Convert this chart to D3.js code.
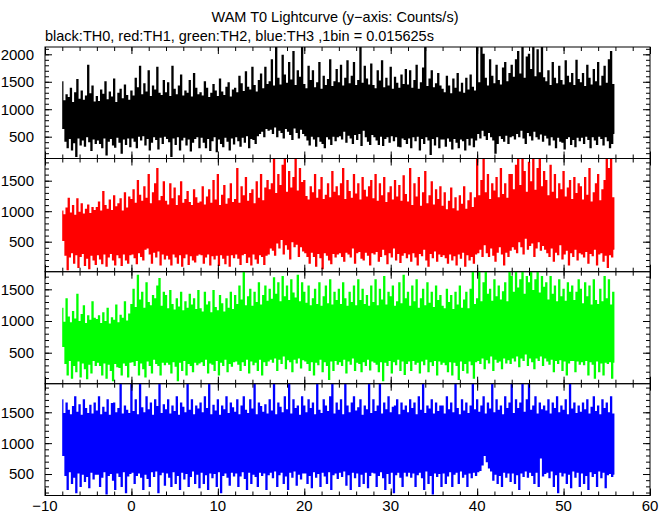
<!DOCTYPE html>
<html>
<head>
<meta charset="utf-8">
<script src="https://cdn.jsdelivr.net/npm/d3@7"></script>
<style>
  html, body { margin: 0; padding: 0; background: #ffffff; }
  svg { display: block; }
  text { font-family: "Liberation Sans", Arial, Helvetica, sans-serif; fill: #000; }
</style>
</head>
<body>
<svg id="chart" width="672" height="515"></svg>
<script>
// ---------------- data ----------------
const titleText = "WAM T0 Lightcurve (y\u2212axis: Counts/s)";
const subtitleText = "black:TH0, red:TH1, green:TH2, blue:TH3 ,1bin = 0.015625s";
const seriesNames = ["TH0", "TH1", "TH2", "TH3"];
const seriesColors = ["#000000", "#ff0000", "#00ff00", "#0000ff"];
const startTime = -8;      // s
const sampleStep = 0.25;   // s, each sample = envelope (max, then min) of 16 bins
const xTickLabels = [-10, 0, 10, 20, 30, 40, 50, 60];
const yTickLabels = [[500, 1000, 1500, 2000], [500, 1000, 1500], [500, 1000, 1500], [500, 1000, 1500]];
const yDomains = [[103, 2133], [8, 1864], [11, 1778], [152, 1963]];

// TH0 (black): upper / lower envelope per 0.25 s
const th0Hi = [
1500,1150,1260,1210,1380,1120,1300,1540,1180,1330,1160,1240,1800,1280,1420,1130,
1230,1140,1350,1270,1500,1170,1310,1220,1550,1120,1290,1360,1190,1440,1250,1160,
1330,1240,1560,1390,1780,1260,1460,1310,1700,1230,1420,1350,1760,1290,1250,1520,
1300,1480,1230,1780,1360,1260,1420,1620,1240,1330,1290,1520,1220,1650,1380,1260,
1300,1240,1500,1380,1210,1290,1450,1330,1230,1550,1310,1250,1400,1480,1220,1350,
1380,1300,1600,1460,1320,1680,1400,1350,1760,1430,1310,1520,1640,1370,1760,1450,
1500,1900,1420,2120,1560,1440,1980,1620,1470,1850,1530,2050,1430,1700,1580,2120,
1450,1370,1780,1520,1700,1390,1480,1850,1360,1600,1430,1540,1900,1410,1500,1720,
1480,1800,1420,1560,1880,1460,1600,1850,1430,1520,2120,1470,1780,1550,1440,1820,
1430,1370,1700,1510,1880,1390,1560,1420,1760,1360,1580,1470,1380,1620,1450,1720,
1440,1700,1380,1520,1800,1360,1480,1750,2120,1410,1550,1700,1390,1460,1650,1420,
1360,1300,1600,1420,1280,1550,1380,1650,1310,1470,1290,1560,1350,1620,1400,1330,
2120,1480,2120,2000,1560,1420,1900,1600,1460,1800,1520,1440,1750,1850,1500,1650,
1800,1580,1900,2050,1640,2120,1560,1950,2000,1720,2120,1590,2080,1660,2120,1570,
1500,1700,1430,1850,1560,1460,1780,1520,1440,1880,1600,1480,1650,1430,1890,1540,
1480,1650,1410,1800,1560,1440,1720,1500,1850,1420,1600,1780,1470,1900,2050,1450];
const th0Lo = [
650,420,300,470,260,390,140,480,350,440,330,500,410,250,460,380,
440,380,300,480,170,420,470,350,310,490,400,200,460,360,480,320,
480,420,300,510,440,520,350,470,260,400,500,450,280,490,380,510,
470,410,140,480,360,500,260,440,490,350,460,240,400,470,500,300,
490,400,300,470,250,430,500,230,460,380,320,490,420,260,480,370,
500,430,330,490,400,520,300,470,450,380,520,560,600,500,650,620,
640,560,680,500,620,580,480,650,600,540,450,660,580,480,640,560,
520,440,350,510,460,330,500,420,380,300,500,460,360,510,430,500,
520,460,600,400,530,480,380,540,450,560,340,620,500,420,360,540,
500,440,360,510,340,470,500,400,520,430,500,330,320,480,450,380,
480,300,500,430,510,260,470,380,500,440,180,470,350,500,300,460,
460,330,480,420,280,470,400,300,460,430,260,470,350,480,320,440,
560,480,620,520,450,580,500,440,200,380,520,470,420,530,380,500,
520,460,560,500,620,480,380,580,520,440,600,500,460,550,420,530,
480,350,500,440,300,490,420,400,280,470,500,360,450,320,490,430,
490,380,510,450,300,500,440,360,510,470,350,500,430,300,380,560];

// TH1 (red)
const th1Hi = [
1000,940,1050,1210,970,1090,930,1200,980,1120,950,1030,1100,960,1060,1010,
1060,1150,1000,1320,1090,1030,1180,1010,1250,1070,1120,1200,1000,1300,1050,1230,
1190,1350,1130,1500,1260,1160,1400,1210,1600,1120,1300,1450,1700,1170,1240,1480,
1160,1100,1450,1200,1380,1090,1250,1480,1130,1190,1320,1140,1090,1350,1220,1130,
1150,1400,1100,1230,1350,1130,1500,1180,1600,1090,1260,1420,1110,1200,1450,1140,
1190,1700,1130,1400,1250,1550,1160,1290,1350,1120,1480,1210,1600,1170,1380,1500,
1350,1450,1860,1290,1600,1420,1750,1860,1310,1650,1380,1550,1860,1330,1700,1470,
1500,1240,1180,1400,1300,1600,1210,1350,1550,1190,1260,1450,1220,1650,1310,1400,
1250,1450,1700,1190,1500,1320,1210,1600,1280,1450,1180,1550,1340,1230,1400,1500,
1200,1600,1160,1450,1250,1550,1140,1300,1400,1180,1500,1230,1420,1160,1580,1270,
1150,1700,1090,1450,1230,1550,1080,1300,1650,1120,1250,1480,1100,1350,1190,1400,
1080,1300,1020,1160,1380,1040,1220,1000,1250,1110,1400,1030,1170,1300,1060,1220,
1860,1250,1500,1860,1300,1600,1190,1450,1330,1550,1220,1700,1270,1450,1210,1600,
1600,1350,1750,1860,1420,1860,1650,1310,1800,1480,1860,1340,1700,1860,1400,1650,
1500,1250,1750,1310,1600,1200,1450,1350,1650,1230,1380,1500,1190,1550,1290,1450,
1400,1180,1550,1260,1700,1150,1300,1450,1600,1170,1350,1500,1860,1700,1860,1220];
const th1Lo = [
520,280,40,250,320,150,290,80,260,310,110,230,60,280,200,130,
290,220,140,300,100,250,310,200,120,290,240,110,300,200,150,290,
300,240,140,320,260,200,380,400,300,150,330,250,350,120,300,220,
280,220,120,300,250,150,290,100,240,300,130,270,200,170,280,300,
290,150,250,300,120,270,220,280,110,290,230,140,280,100,290,240,
300,230,130,290,310,160,250,120,300,220,150,290,260,130,280,300,
400,360,280,480,400,540,300,450,380,220,500,420,460,260,420,350,
320,260,150,330,260,100,310,240,60,320,280,200,140,310,250,300,
320,260,180,330,300,250,400,150,320,340,230,200,330,280,120,320,
300,340,180,260,380,290,140,320,250,400,200,310,160,280,320,240,
300,180,320,250,120,310,270,380,200,100,310,240,350,180,300,260,
290,240,150,300,200,270,120,300,230,330,100,290,200,260,150,300,
320,380,260,450,320,260,400,280,180,330,420,300,120,330,260,360,
420,380,320,500,420,300,560,380,440,480,260,400,500,360,440,380,
320,260,400,180,330,290,450,220,300,360,120,320,260,380,200,320,
300,250,340,150,310,270,380,120,300,320,180,280,80,290,250,380];

// TH2 (green)
const th2Hi = [
1200,980,1350,1060,970,1150,1030,1420,990,1100,1240,960,1080,1010,1300,1040,
1020,1080,960,1130,990,1200,950,1050,1010,1250,970,1090,1040,1300,1000,1110,
1260,1500,1210,1720,1330,1450,1200,1600,1290,1240,1400,1350,1550,1670,1230,1450,
1400,1190,1480,1260,1170,1350,1220,1450,1160,1300,1200,1420,1250,1350,1180,1480,
1190,1140,1450,1250,1300,1130,1480,1210,1160,1400,1270,1140,1350,1200,1450,1180,
1400,1260,1550,1330,1778,1240,1380,1500,1230,1450,1290,1600,1250,1400,1550,1310,
1500,1340,1680,1420,1600,1300,1700,1380,1550,1320,1650,1440,1360,1720,1300,1600,
1450,1280,1550,1240,1350,1500,1260,1600,1230,1380,1550,1270,1650,1250,1450,1320,
1500,1260,1600,1350,1230,1450,1290,1550,1240,1650,1320,1500,1260,1400,1230,1550,
1290,1650,1240,1500,1330,1700,1250,1450,1380,1550,1230,1300,1600,1270,1720,1350,
1450,1230,1550,1300,1650,1200,1350,1500,1240,1600,1280,1450,1210,1550,1320,1400,
1230,1190,1500,1290,1400,1180,1450,1250,1550,1200,1330,1450,1190,1500,1778,1260,
1350,1778,1300,1600,1778,1420,1500,1310,1650,1380,1550,1330,1460,1600,1300,1778,
1700,1450,1778,1520,1650,1778,1420,1700,1600,1778,1480,1650,1778,1440,1700,1530,
1600,1330,1700,1420,1550,1300,1650,1380,1500,1310,1600,1450,1550,1320,1450,1650,
1500,1270,1600,1380,1550,1250,1650,1320,1260,1500,1300,1700,1350,1650,1250,1450];
const th2Lo = [
600,330,150,380,100,300,200,370,120,340,250,90,320,180,380,300,
350,300,150,340,100,320,220,60,330,280,270,150,340,300,120,350,
360,300,380,150,340,250,120,370,300,180,400,330,300,150,350,310,
350,320,180,360,290,60,350,220,380,150,330,300,200,350,310,340,
360,300,400,180,340,320,220,380,150,350,300,400,200,330,290,360,
370,320,220,360,300,400,180,370,310,350,220,400,150,360,300,370,
400,350,420,220,400,330,450,250,390,360,200,400,340,420,260,390,
370,330,220,360,150,350,310,400,200,360,300,80,370,220,380,320,
360,300,400,180,370,320,420,220,350,330,200,360,300,400,230,370,
350,320,200,360,60,350,300,380,180,360,310,400,220,370,160,330,
370,220,380,320,350,180,370,310,400,200,360,300,380,150,370,320,
350,310,200,360,150,350,300,80,370,220,330,180,370,310,100,360,
380,330,420,250,390,340,450,220,400,350,370,250,420,340,390,330,
420,370,450,280,420,380,480,300,420,360,250,420,380,450,300,420,
370,320,400,200,380,330,390,220,370,150,340,380,380,200,370,320,
360,310,380,150,360,320,100,370,200,340,150,350,330,360,100,350];

// TH3 (blue)
const th3Hi = [
1700,1480,1650,1530,1460,1590,1750,1500,1620,1450,1700,1560,1480,1610,1470,1650,
1520,1750,1460,1580,1500,1700,1450,1640,1650,1490,1560,1958,1470,1600,1530,1480,
1958,1510,1700,1460,1958,1570,1490,1750,1540,1650,1450,1700,1590,1958,1480,1620,
1540,1700,1470,1600,1510,1750,1450,1650,1580,1490,1958,1530,1700,1460,1600,1550,
1650,1490,1750,1560,1958,1460,1610,1520,1700,1450,1600,1540,1750,1480,1650,1570,
1500,1700,1460,1600,1750,1530,1480,1700,1550,1958,1460,1650,1590,1500,1620,1470,
1700,1520,1958,1460,1650,1580,1490,1750,1540,1958,1470,1700,1560,1600,1450,1750,
1600,1490,1700,1560,1650,1460,1958,1530,1480,1700,1600,1510,1750,1958,1470,1650,
1530,1700,1460,1958,1600,1490,1650,1750,1520,1570,1700,1450,1600,1540,1958,1480,
1700,1510,1600,1958,1470,1650,1540,1750,1490,1580,1600,1700,1460,1650,1530,1600,
1490,1700,1560,1650,1460,1750,1530,1958,1480,1600,1550,1700,1470,1650,1510,1600,
1600,1470,1750,1540,1650,1490,1958,1560,1460,1700,1520,1650,1480,1600,1958,1540,
1700,1500,1600,1750,1470,1650,1550,1958,1490,1700,1530,1600,1460,1750,1560,1650,
1958,1480,1700,1560,1650,1958,1500,1700,1958,1530,1600,1750,1470,1650,1540,1600,
1520,1700,1470,1650,1560,1750,1490,1600,1530,1700,1460,1958,1550,1650,1480,1600,
1500,1650,1540,1700,1470,1580,1750,1510,1600,1460,1700,1560,1650,1490,1750,1470];
const th3Lo = [
800,480,250,540,350,450,200,520,300,500,380,460,280,530,420,500,
500,300,450,540,180,480,510,400,250,520,460,300,540,200,470,510,
530,350,480,520,450,250,500,430,300,540,460,550,200,490,530,320,
520,450,300,540,350,480,250,530,420,510,300,460,550,350,500,280,
530,350,490,250,520,440,510,300,540,200,480,520,450,320,530,470,
520,300,470,540,430,250,530,350,500,460,300,530,480,520,250,490,
530,440,550,300,490,530,350,470,250,530,450,550,320,500,420,520,
520,350,480,280,540,450,510,300,530,470,350,540,250,490,520,430,
530,460,550,320,490,250,530,440,520,300,500,350,530,280,480,530,
520,300,480,540,440,250,510,350,530,200,490,530,450,300,530,470,
530,450,520,300,490,530,440,250,550,350,480,180,520,460,510,300,
520,350,470,540,300,500,530,350,550,450,500,300,520,440,530,480,
540,560,650,800,700,600,550,400,500,350,480,300,530,450,520,380,
520,350,490,250,520,460,550,450,530,480,350,530,300,760,470,510,
530,440,550,300,490,200,530,470,520,350,500,280,550,450,530,300,
520,350,480,250,540,460,510,300,550,440,530,280,490,510,460,500];

const hiSeries = [th0Hi, th1Hi, th2Hi, th3Hi];
const loSeries = [th0Lo, th1Lo, th2Lo, th3Lo];

// ---------------- layout ----------------
const W = 672, H = 515;
const plotLeft = 45, plotRight = 650;
const panelBounds = [[47, 158.5], [158.5, 271.7], [271.7, 383.7], [383.7, 495.5]];

const svg = d3.select("#chart");
svg.append("rect").attr("width", W).attr("height", H).attr("fill", "#fff");

const x = d3.scaleLinear().domain([-10, 60]).range([plotLeft, plotRight]);

svg.append("text").attr("x", 335).attr("y", 22).attr("text-anchor", "middle")
  .attr("font-size", 14.5).text(titleText);
svg.append("text").attr("x", 45).attr("y", 41).attr("text-anchor", "start")
  .attr("font-size", 14.5).text(subtitleText);

const defs = svg.append("defs");

panelBounds.forEach(([top, bottom], p) => {
  const y = d3.scaleLinear().domain(yDomains[p]).range([bottom, top]);
  const clipId = "clip" + p;
  defs.append("clipPath").attr("id", clipId).append("rect")
    .attr("x", plotLeft).attr("y", top).attr("width", plotRight - plotLeft).attr("height", bottom - top);

  // each 0.25 s sample: its maximum, then its minimum half a step later (histogram steps)
  const pts = [];
  hiSeries[p].forEach((h, i) => {
    const t = startTime + i * sampleStep;
    pts.push([t, h]);
    pts.push([t + sampleStep / 2, loSeries[p][i]]);
  });
  const line = d3.line().curve(d3.curveStep).x(d => x(d[0])).y(d => y(d[1]));
  svg.append("g").attr("clip-path", `url(#${clipId})`)
    .append("path").attr("d", line(pts))
    .attr("fill", "none").attr("stroke", seriesColors[p])
    .attr("stroke-width", 1.25).attr("stroke-linejoin", "miter");

  // ticks
  const xMinor = d3.range(-10, 61, 2);
  const xMajor = d3.range(-10, 61, 10);
  const [y0, y1] = yDomains[p];
  const yMinor = d3.range(Math.ceil(y0 / 100) * 100, y1 + 0.1, 100);
  const yMajor = yMinor.filter(v => v % 500 === 0);

  const axG = svg.append("g");
  axG.append("g").attr("transform", `translate(0,${bottom})`)
    .call(d3.axisBottom(x).tickValues(xMinor).tickSize(-4).tickFormat(""));
  axG.append("g").attr("transform", `translate(0,${bottom})`)
    .call(d3.axisBottom(x).tickValues(xMajor).tickSize(-7).tickFormat(""));
  axG.append("g").attr("transform", `translate(0,${top})`)
    .call(d3.axisTop(x).tickValues(xMinor).tickSize(-4).tickFormat(""));
  axG.append("g").attr("transform", `translate(0,${top})`)
    .call(d3.axisTop(x).tickValues(xMajor).tickSize(-7).tickFormat(""));
  axG.append("g").attr("transform", `translate(${plotLeft},0)`)
    .call(d3.axisLeft(y).tickValues(yMinor).tickSize(-4).tickFormat(""));
  axG.append("g").attr("transform", `translate(${plotLeft},0)`)
    .call(d3.axisLeft(y).tickValues(yMajor).tickSize(-7).tickFormat(""));
  axG.append("g").attr("transform", `translate(${plotRight},0)`)
    .call(d3.axisRight(y).tickValues(yMinor).tickSize(-4).tickFormat(""));
  axG.append("g").attr("transform", `translate(${plotRight},0)`)
    .call(d3.axisRight(y).tickValues(yMajor).tickSize(-7).tickFormat(""));
  axG.selectAll(".domain").remove();
  axG.selectAll(".tick line").attr("stroke", "#000").attr("stroke-width", 1);

  // frame
  svg.append("rect").attr("x", plotLeft).attr("y", top)
    .attr("width", plotRight - plotLeft).attr("height", bottom - top)
    .attr("fill", "none").attr("stroke", "#000").attr("stroke-width", 1);

  // y labels
  svg.append("g").selectAll("text").data(yTickLabels[p]).join("text")
    .attr("x", 34).attr("y", d => y(d)).attr("dy", "0.36em")
    .attr("text-anchor", "end").attr("font-size", 15)
    .text(d => d);
});

// x labels (bottom panel only)
const lastBottom = panelBounds[3][1];
svg.append("g").selectAll("text").data(xTickLabels).join("text")
  .attr("x", d => x(d)).attr("y", lastBottom + 15)
  .attr("text-anchor", "middle").attr("font-size", 15)
  .text(d => d < 0 ? "\u2212" + Math.abs(d) : String(d));
</script>
</body>
</html>
